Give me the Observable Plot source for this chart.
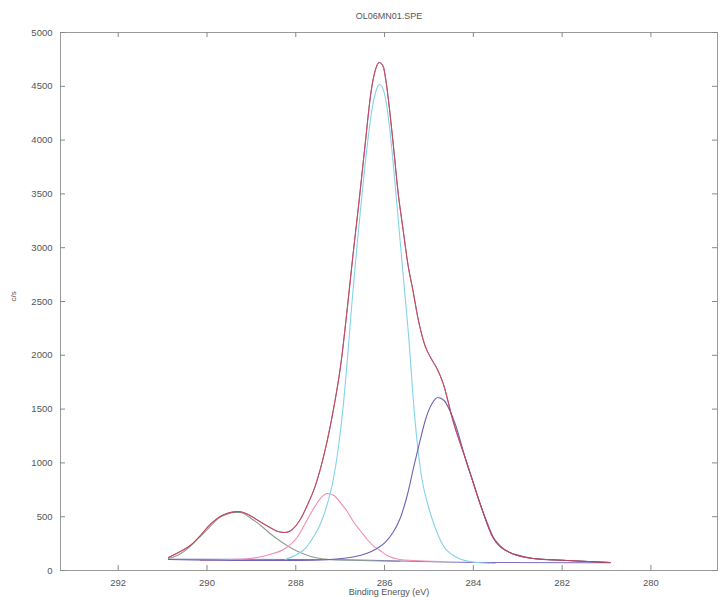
<!DOCTYPE html>
<html>
<head>
<meta charset="utf-8">
<script src="https://cdn.jsdelivr.net/npm/d3@7"></script>
<script src="https://cdn.jsdelivr.net/npm/@observablehq/plot@0.6"></script>
<style>
  html, body { margin: 0; padding: 0; background: #fff; }
  #chart svg { display: block; }
</style>
</head>
<body>
<div id="chart"></div>
<script>
// C 1s spectrum OL06MN01.SPE: measured envelope, fitted components and background

const title = "OL06MN01.SPE";
const xLabel = "Binding Energy (eV)";
const yLabel = "c/s";

const xTicks = [292, 290, 288, 286, 284, 282, 280];
const yTicks = [0, 500, 1000, 1500, 2000, 2500, 3000, 3500, 4000, 4500, 5000];

// Envelope (sum of fit) / measured counts
const envEV = [290.87, 290.60, 290.38, 290.15, 289.93, 289.70, 289.48, 289.30, 289.07, 288.85, 288.62, 288.40, 288.24, 288.08, 287.90, 287.72, 287.57, 287.41, 287.16, 286.98, 286.84, 286.71, 286.57, 286.44, 286.30, 286.21, 286.12, 286.03, 285.97, 285.88, 285.79, 285.70, 285.58, 285.47, 285.36, 285.25, 285.09, 284.95, 284.82, 284.68, 284.46, 284.14, 283.85, 283.56, 283.18, 282.66, 281.89, 280.92];
const envCPS = [121, 177, 232, 325, 428, 502, 539, 548, 520, 465, 409, 362, 353, 381, 474, 625, 775, 1000, 1478, 1933, 2435, 2937, 3448, 3950, 4461, 4647, 4721, 4684, 4554, 4257, 3903, 3532, 3160, 2835, 2602, 2351, 2091, 1970, 1877, 1738, 1394, 994, 623, 307, 167, 112, 93, 74];

// Component near 289.3 eV
const c1EV = [290.87, 290.67, 290.49, 290.31, 290.13, 289.93, 289.75, 289.57, 289.39, 289.25, 289.10, 288.94, 288.76, 288.58, 288.40, 288.20, 288.00, 287.79, 287.57, 287.23, 286.55, 285.65];
const c1CPS = [112, 139, 186, 251, 325, 409, 483, 520, 539, 539, 511, 465, 409, 344, 288, 232, 186, 149, 121, 102, 93, 84];

// Component near 287.3 eV
const c2EV = [290.15, 289.48, 289.03, 288.58, 288.24, 287.97, 287.75, 287.57, 287.43, 287.29, 287.14, 286.98, 286.84, 286.69, 286.55, 286.39, 286.26, 286.10, 285.94, 285.65, 285.36, 284.75];
const c2CPS = [93, 102, 112, 149, 204, 307, 465, 595, 678, 716, 697, 623, 548, 446, 372, 288, 232, 186, 139, 102, 93, 84];

// Component near 286.1 eV
const c3EV = [288.24, 288.02, 287.79, 287.61, 287.45, 287.30, 287.16, 287.05, 286.93, 286.84, 286.73, 286.62, 286.51, 286.39, 286.28, 286.19, 286.12, 286.06, 285.97, 285.88, 285.79, 285.68, 285.56, 285.45, 285.36, 285.27, 285.16, 285.02, 284.86, 284.68, 284.41, 284.08, 283.51];
const c3CPS = [102, 139, 204, 307, 428, 604, 836, 1115, 1533, 1952, 2509, 3021, 3485, 3950, 4294, 4461, 4517, 4498, 4368, 4089, 3718, 3206, 2649, 2138, 1626, 1208, 855, 604, 400, 232, 130, 84, 65];

// Component near 284.8 eV
const c4EV = [290.87, 289.03, 287.90, 287.23, 286.78, 286.48, 286.21, 285.99, 285.81, 285.65, 285.49, 285.34, 285.20, 285.07, 284.93, 284.80, 284.66, 284.53, 284.41, 284.14, 284.01, 283.85, 283.69, 283.56, 283.40, 283.18, 282.95, 282.66, 281.89, 280.92];
const c4CPS = [102, 93, 93, 102, 121, 149, 195, 260, 353, 483, 697, 967, 1208, 1413, 1552, 1608, 1580, 1487, 1364, 985, 827, 623, 446, 316, 232, 167, 139, 112, 93, 74];

// Background
const bgEV = [290.87, 288.5, 287.0, 286.0, 285.0, 284.0, 282.5, 280.92];
const bgCPS = [105, 103, 100, 92, 82, 75, 73, 72];

const toRows = (xs, ys) => xs.map((x, i) => ({x, y: ys[i]}));

const W = 720, H = 597;
const mL = 60, mR = 3, mT = 32, mB = 27;
const frameW = W - mL - mR;
const frameH = H - mT - mB;
const tickLen = 5;
const axisColor = "#9a9a9a";
const textColor = "#555";

const line = (rows, stroke, extra = {}) =>
  Plot.line(rows, {x: "x", y: "y", stroke, strokeWidth: 1.1, curve: "monotone-x", ...extra});

const chart = Plot.plot({
  width: W,
  height: H,
  marginLeft: mL,
  marginRight: mR,
  marginTop: mT,
  marginBottom: mB,
  style: {fontFamily: "'Liberation Sans', Arial, sans-serif", fontSize: "9.5px", color: textColor, background: "#fff"},
  x: {domain: [293.3, 278.5], label: null},
  y: {domain: [0, 5000], label: null},
  marks: [
    Plot.frame({stroke: axisColor}),
    // inward tick marks on all four sides
    Plot.ruleX(xTicks, {stroke: "#888", insetTop: frameH - tickLen}),
    Plot.ruleX(xTicks, {stroke: "#888", insetBottom: frameH - tickLen}),
    Plot.ruleY(yTicks, {stroke: "#888", insetRight: frameW - tickLen}),
    Plot.ruleY(yTicks, {stroke: "#888", insetLeft: frameW - tickLen}),
    Plot.axisX({ticks: xTicks, tickSize: 0, tickPadding: 9, label: null, fill: textColor}),
    Plot.axisY({ticks: yTicks, tickSize: 0, tickPadding: 8, label: null, fill: textColor, tickFormat: d => String(d)}),
    line(toRows(bgEV, bgCPS), "#7a6fc0", {strokeWidth: 1}),
    line(toRows(c1EV, c1CPS), "#8e9c92"),
    line(toRows(c2EV, c2CPS), "#f08db4"),
    line(toRows(c3EV, c3CPS), "#84d2ea"),
    line(toRows(c4EV, c4CPS), "#6d62b6"),
    line(toRows(envEV, envCPS), "#4a4060", {strokeWidth: 1, strokeOpacity: 0.9}),
    line(toRows(envEV, envCPS), "#e2455c", {strokeWidth: 1.1, strokeOpacity: 0.8}),
    Plot.text([title], {frameAnchor: "top", dy: -20, fontSize: 9, fill: textColor}),
    Plot.text([xLabel], {frameAnchor: "bottom", dy: 18, lineAnchor: "top", fontSize: 9, fill: textColor}),
    Plot.text([yLabel], {frameAnchor: "left", dx: -47, rotate: -90, fontSize: 8, fill: textColor})
  ]
});

document.getElementById("chart").appendChild(chart);
</script>
</body>
</html>
